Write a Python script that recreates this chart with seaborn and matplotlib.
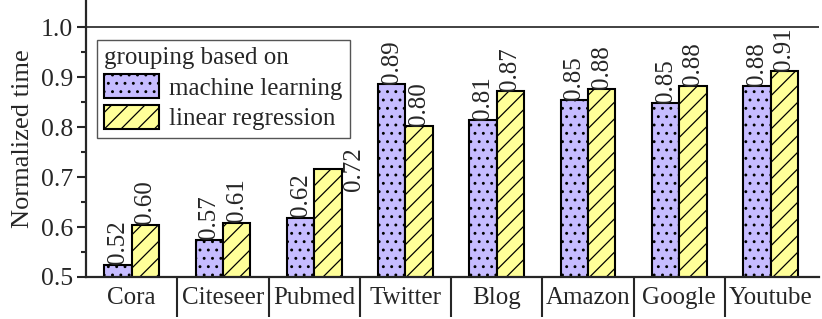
import pandas as pd
import matplotlib
matplotlib.use('Agg')
import matplotlib.pyplot as plt
import matplotlib.patches as mpatches
from matplotlib.ticker import FixedLocator
import seaborn as sns

#########
# data
#########
datasets = ['Cora', 'Citeseer', 'Pubmed', 'Twitter', 'Blog', 'Amazon', 'Google', 'Youtube']
ml_time = [0.524, 0.574, 0.618, 0.886, 0.814, 0.854, 0.848, 0.882]
lr_time = [0.604, 0.609, 0.716, 0.802, 0.872, 0.876, 0.882, 0.912]
methods = ['machine learning', 'linear regression']
colors = ['#C6BCFF', '#FFFF99']
hatches = ['..', '//']

df = pd.DataFrame({
    'dataset': datasets * 2,
    'time': ml_time + lr_time,
    'method': [methods[0]] * len(datasets) + [methods[1]] * len(datasets),
})

sns.set_style('ticks')
plt.rcParams['font.family'] = ['Liberation Serif', 'DejaVu Serif']
plt.rcParams['font.size'] = 18
plt.rcParams['hatch.linewidth'] = 0.9

fig = plt.figure(figsize=(8.22, 3.19), dpi=100)
ax = fig.add_axes([0.1046, 0.1317, 0.8918, 0.8683])

sns.barplot(data=df, x='dataset', y='time', hue='method', palette=colors,
            width=0.6, edgecolor='black', linewidth=1.5, saturation=1,
            legend=False, ax=ax)

for cont, h in zip(ax.containers, hatches):
    for p in cont.patches:
        p.set_hatch(h)

# value labels
ax.bar_label(ax.containers[0], labels=[f'{v:.2f}' for v in ml_time],
             rotation=90, padding=0.5, fontsize=18)
lr_labels = [f'{v:.2f}' for v in lr_time]
lr_labels[2] = ''
ax.bar_label(ax.containers[1], labels=lr_labels, rotation=90, padding=0.5, fontsize=18)
# Pubmed label sits beside its bar in the original
ax.text(2.31, lr_time[2], f'{lr_time[2]:.2f}', rotation=90,
        ha='left', va='center', fontsize=18)

ax.axhline(1.0, color='#333333', lw=1.3, zorder=0)

ax.set_ylim(0.5, 1.055)
ax.set_xlim(-0.5, 7.53)
ax.set_yticks([0.5, 0.6, 0.7, 0.8, 0.9, 1.0])
ax.yaxis.set_minor_locator(FixedLocator([0.55, 0.65, 0.75, 0.85, 0.95]))
ax.tick_params(axis='y', which='major', length=6.5, width=1.5, pad=3, labelsize=18.5)
ax.tick_params(axis='y', which='minor', length=3.5, width=1.5)
ax.xaxis.set_minor_locator(FixedLocator([0.5, 1.5, 2.5, 3.5, 4.5, 5.5, 6.5]))
ax.tick_params(axis='x', which='major', length=0, pad=7, labelsize=18)
ax.tick_params(axis='x', which='minor', length=29, width=1.5, direction='out')

sns.despine(ax=ax, top=True, right=True)
ax.spines['left'].set_linewidth(1.6)
ax.spines['bottom'].set_linewidth(1.6)

ax.set_xlabel('')
ax.set_ylabel('Normalized time', fontsize=19, labelpad=5)

handles = [mpatches.Patch(facecolor=c, edgecolor='black', hatch=h, linewidth=1.5, label=m)
           for c, h, m in zip(colors, hatches, methods)]
leg = ax.legend(handles=handles, title='grouping based on', loc='upper left',
                bbox_to_anchor=(0.015, 0.856), borderaxespad=0, fontsize=18,
                title_fontsize=18, frameon=True, fancybox=False, framealpha=1,
                edgecolor='#555555', handlelength=2.2, handleheight=1.1,
                handletextpad=0.4, labelspacing=0.2, borderpad=0.3)
leg._legend_box.align = 'left'
leg.get_frame().set_linewidth(1.0)

plt.savefig('out.png', dpi=100)
